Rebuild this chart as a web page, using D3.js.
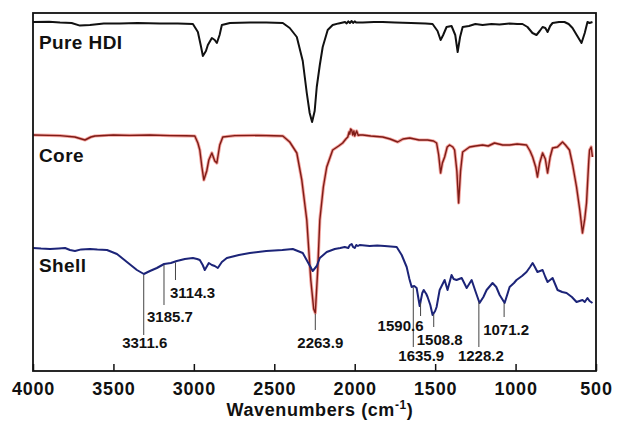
<!DOCTYPE html>
<html>
<head>
<meta charset="utf-8">
<script src="https://cdn.jsdelivr.net/npm/d3@7"></script>
<style>
  body { margin: 0; background: #fff; }
  text { font-family: "Liberation Sans", Arial, sans-serif; font-weight: bold; fill: #111; }
</style>
</head>
<body>
<svg id="chart" width="617" height="426"></svg>
<script>
// spectra: [wavenumber, transmittance (a.u., offset)]
var pureHDI = [[4000,174.5],[3900,174.6],[3832,174.2],[3760,174],[3708,172.7],[3646,173],[3560,173.8],[3460,173.7],[3350,174],[3211,173.7],[3100,173.8],[3006,173.5],[2975,169.5],[2955,162],[2944,157.5],[2925,160],[2913,163],[2888,166.5],[2870,165.5],[2857,164],[2840,168],[2826,173],[2776,174],[2650,174.3],[2550,174.2],[2447,174],[2404,171.5],[2360,167],[2323,155],[2298,139],[2280,129],[2265,124.5],[2249,130],[2236,142],[2217,153],[2199,162],[2168,170.5],[2137,173],[2100,173.8],[2060,174.5],[2050,173.8],[2040,174.8],[2030,174],[2019,175],[2010,174],[2000,174.8],[1990,174.2],[1950,174.2],[1880,174.5],[1826,174.5],[1750,174.3],[1650,174],[1560,173.8],[1516,173.5],[1485,170],[1466,165.5],[1450,168],[1429,172],[1398,172.5],[1375,168],[1360,159.5],[1345,167],[1329,172],[1290,172.5],[1250,173.5],[1205,173],[1150,173.5],[1100,173.2],[1037,173.7],[990,173.5],[957,173.5],[926,172],[895,169],[870,168],[850,170],[832,172],[815,171.5],[801,169.5],[785,172.5],[770,174],[730,174.5],[696,174.5],[670,173.5],[646,171.5],[620,168],[590,164],[570,169],[553,174.5],[540,174],[522,174.5]];

var core = [[4000,118],[3900,117.8],[3832,117.7],[3740,117],[3677,115.5],[3640,117],[3615,117.5],[3500,118],[3400,117.8],[3273,118],[3150,117.7],[3050,117.6],[2994,117.5],[2975,114],[2963,110.5],[2950,102],[2938,95.5],[2920,100],[2907,105.5],[2888,109],[2870,105],[2857,104],[2839,113],[2820,117],[2745,117.7],[2600,117.8],[2500,117.6],[2447,117.5],[2404,114.5],[2360,109],[2329,95.5],[2298,75.5],[2273,45.5],[2255,31],[2245,29],[2230,50.5],[2217,75.5],[2195,92],[2174,102],[2137,110.5],[2100,112.5],[2075,114],[2055,116],[2043,117],[2035,119.5],[2031,118.5],[2025,121],[2019,120.5],[2012,118],[2005,120],[2000,117.5],[1993,119],[1988,120],[1978,117.8],[1969,118],[1950,118],[1900,117.5],[1826,117],[1780,116],[1733,114.5],[1700,116],[1658,116.5],[1600,115.5],[1547,115.5],[1510,115],[1491,114],[1478,108],[1466,99],[1455,104],[1441,107],[1425,112],[1410,113],[1390,112],[1379,110.5],[1365,100],[1354,84],[1342,100],[1329,109.5],[1286,112],[1250,112.5],[1205,113],[1170,112.5],[1131,114],[1080,113],[1037,113],[990,113.5],[932,113],[910,110],[894,107],[875,102],[864,97],[850,104],[832,109],[815,106],[801,99],[785,107],[770,111.5],[740,112],[708,114.5],[690,113],[665,110.5],[645,103],[621,92],[600,80],[584,69],[570,76],[559,84],[545,105],[540,110.5],[530,112],[522,107]];

var shell = [[4000,61.5],[3950,61.2],[3894,61],[3840,61.3],[3801,61.5],[3770,60.5],[3739,60],[3700,60.8],[3646,61],[3600,60.7],[3540,60.5],[3478,58.5],[3416,54.5],[3354,50.5],[3311,48.5],[3273,50],[3230,51.5],[3185,53.5],[3143,54],[3106,55],[3056,56],[3006,56.5],[2980,56],[2963,55.5],[2945,53],[2932,50.5],[2907,54],[2888,53],[2870,52.5],[2851,51.5],[2826,54.5],[2795,56.5],[2720,58],[2652,59],[2550,60],[2450,60.5],[2385,61],[2323,59],[2292,54.5],[2261,50],[2236,52.5],[2217,56.5],[2174,59.5],[2124,61],[2090,61.5],[2062,62],[2040,61.5],[2030,63],[2019,63.5],[2010,62],[2000,61.5],[1990,63],[1980,62.5],[1969,63],[1907,62.5],[1860,62.8],[1814,62.5],[1739,62],[1708,58],[1677,52],[1660,46],[1646,42],[1630,42.5],[1615,41.5],[1596,32.5],[1580,39],[1571,40.5],[1555,38.5],[1547,37],[1530,33],[1516,28],[1500,30],[1491,32],[1472,40.5],[1441,45.5],[1423,40.5],[1398,48],[1385,46],[1367,45.5],[1335,46.5],[1304,41.5],[1273,45.5],[1250,40],[1224,34],[1200,37],[1180,40.5],[1143,44],[1120,42],[1099,38],[1068,34],[1037,42],[1010,44],[994,45.5],[960,47.5],[932,49.5],[910,52],[894,54],[880,52],[864,49.5],[832,50.5],[815,47],[801,44.5],[770,46.5],[739,40.5],[710,39.5],[683,39],[650,37],[621,34.5],[584,35.5],[570,34.5],[553,36.5],[540,35],[522,34]];

var seriesNames = ["Pure HDI", "Core", "Shell"];
var xTicks = [4000, 3500, 3000, 2500, 2000, 1500, 1000, 500];

// peak labels (text) and where they sit on the curve
var peakText = ["3311.6", "3185.7", "3114.3", "2263.9", "1635.9", "1590.6", "1508.8", "1228.2", "1071.2"];
var peakWn = [3311.6, 3185.7, 3114.3, 2245, 1635.9, 1590.6, 1508.8, 1228.2, 1071.2];
var peakSeries = [2, 2, 2, 1, 2, 2, 2, 2, 2];

var dimensions = {
  width: 617,
  height: 426,
  margin: { top: 13, bottom: 55, right: 21, left: 33 }
}

var svg = d3.select("#chart")

var x = d3.scaleLinear()
  .domain([4000, 500])
  .range([dimensions.margin.left, dimensions.width - dimensions.margin.right])

var y = d3.scaleLinear()
  .domain([0, 179])
  .range([dimensions.height - dimensions.margin.bottom, dimensions.margin.top])

var allSeries = [pureHDI, core, shell]

var line = d3.line()
  .x(d => x(d[0]))
  .y(d => y(d[1]))

// red one has a glow in the original
svg.append("path")
  .datum(core)
  .attr("d", line)
  .attr("fill", "none")
  .attr("stroke", "#e8453c")
  .attr("stroke-opacity", 0.5)
  .attr("stroke-width", 3.2)
  .attr("stroke-linejoin", "round")

svg.append("path")
  .datum(core)
  .attr("d", line)
  .attr("fill", "none")
  .attr("stroke", "#7e1c17")
  .attr("stroke-width", 1.4)
  .attr("stroke-linejoin", "round")

svg.append("path")
  .datum(pureHDI)
  .attr("d", line)
  .attr("fill", "none")
  .attr("stroke", "#111")
  .attr("stroke-width", 2)
  .attr("stroke-linejoin", "round")

svg.append("path")
  .datum(shell)
  .attr("d", line)
  .attr("fill", "none")
  .attr("stroke", "#1c2478")
  .attr("stroke-width", 2)
  .attr("stroke-linejoin", "round")

// series names
var nameY = [49, 162, 272]
seriesNames.forEach(function(n, i) {
  svg.append("text")
    .attr("x", 39)
    .attr("y", nameY[i])
    .style("font-size", "19px")
    .style("letter-spacing", "0.4px")
    .text(n)
})

// value on a curve at a wavenumber, for the label stems
function valueAt(data, wn) {
  for (var i = 0; i < data.length - 1; i++) {
    var a = data[i], b = data[i + 1]
    if (wn <= a[0] && wn >= b[0]) {
      var t = (a[0] - wn) / (a[0] - b[0])
      return a[1] + t * (b[1] - a[1])
    }
  }
  return data[data.length - 1][1]
}

// stem bottom, label dx and label baseline (layout only)
var stemEnd = [335, 305, 280, 330, 347, 316, 327, 347, 317]
var labelDx = [1, 6, 17, 5, 8, -20, 6, 2, 2]
var labelY = [348, 322, 298, 348, 361, 331, 345, 361, 335]

for (var i = 0; i < peakText.length; i++) {
  var px = x(peakWn[i])
  var stemTop = y(valueAt(allSeries[peakSeries[i]], peakWn[i])) + 1
  svg.append("line")
    .attr("x1", px)
    .attr("x2", px)
    .attr("y1", stemTop)
    .attr("y2", stemEnd[i])
    .attr("stroke", "#444")
    .attr("stroke-width", 1)

  svg.append("text")
    .attr("x", px + labelDx[i])
    .attr("y", labelY[i])
    .attr("text-anchor", "middle")
    .style("font-size", "15px")
    .text(peakText[i])
}

// frame
svg.append("rect")
  .attr("x", dimensions.margin.left)
  .attr("y", dimensions.margin.top)
  .attr("width", dimensions.width - dimensions.margin.left - dimensions.margin.right)
  .attr("height", dimensions.height - dimensions.margin.top - dimensions.margin.bottom)
  .attr("fill", "none")
  .attr("stroke", "#111")
  .attr("stroke-width", 1.8)

// bottom axis, ticks pointing inward
var xAxis = d3.axisBottom(x)
  .tickValues(xTicks)
  .tickFormat(d3.format("d"))
  .tickSizeInner(-7)
  .tickSizeOuter(0)
  .tickPadding(11)

var axisG = svg.append("g")
  .attr("transform", "translate(0," + (dimensions.height - dimensions.margin.bottom) + ")")
  .call(xAxis)

axisG.select(".domain").remove()
axisG.selectAll(".tick line")
  .attr("stroke", "#111")
  .attr("stroke-width", 1.5)
axisG.selectAll(".tick text")
  .style("font-family", "'Liberation Sans', Arial, sans-serif")
  .style("font-weight", "bold")
  .style("font-size", "18px")
  .style("letter-spacing", "0.8px")
  .attr("fill", "#111")

// axis title
var title = svg.append("text")
  .attr("x", 320)
  .attr("y", 416)
  .attr("text-anchor", "middle")
  .style("font-size", "18px")
  .style("letter-spacing", "0.6px")

title.append("tspan").text("Wavenumbers (cm")
title.append("tspan")
  .attr("dy", -7)
  .style("font-size", "12px")
  .text("-1")
title.append("tspan")
  .attr("dy", 7)
  .text(")")
</script>
</body>
</html>
